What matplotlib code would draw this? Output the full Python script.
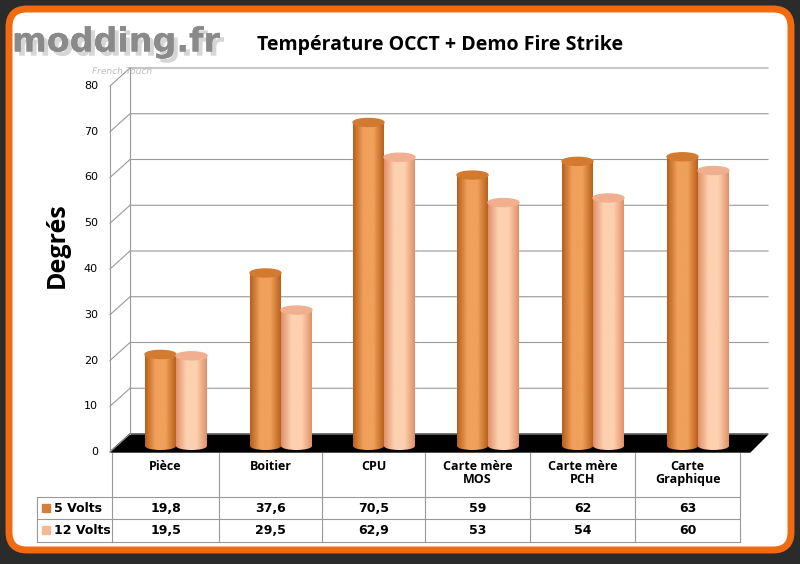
import numpy as np
import matplotlib
matplotlib.use("Agg")
import matplotlib.pyplot as plt
from matplotlib.patches import Rectangle, Ellipse, Polygon, FancyBboxPatch
from matplotlib.colors import LinearSegmentedColormap

categories = ["Pièce", "Boitier", "CPU", "Carte mère\nMOS", "Carte mère\nPCH", "Carte\nGraphique"]
volts5 = [19.8, 37.6, 70.5, 59, 62, 63]
volts12 = [19.5, 29.5, 62.9, 53, 54, 60]
labels5 = ["19,8", "37,6", "70,5", "59", "62", "63"]
labels12 = ["19,5", "29,5", "62,9", "53", "54", "60"]
yticks = [0, 10, 20, 30, 40, 50, 60, 70, 80]

fig = plt.figure(figsize=(8, 5.64), dpi=100)
ax = fig.add_axes([0, 0, 1, 1])
ax.set_xlim(0, 800)
ax.set_ylim(564, 0)
ax.axis("off")

# frame
ax.add_patch(Rectangle((0, 0), 800, 564, color="#2b2b2b"))
ax.add_patch(FancyBboxPatch((9, 9), 782, 541, boxstyle="round,pad=0,rounding_size=18",
                            fc="white", ec="#f06a10", lw=5))

# logo
import matplotlib.patheffects as pe
ax.text(12, 42, "modding.fr", fontsize=24, fontweight="bold", color="#8a8a8a",
        va="center", zorder=5,
        path_effects=[pe.withSimplePatchShadow(offset=(3, -3), shadow_rgbFace="#cccccc", alpha=0.8),
                      pe.Normal()])
ax.text(92, 74, "French Touch", fontsize=6.5, color="#bbbbbb", style="italic")

ax.text(440, 45, "Température OCCT + Demo Fire Strike", fontsize=14, fontweight="bold",
        ha="center", va="center", family="Open Sans")
ax.text(57, 245, "Degrés", fontsize=18, fontweight="bold", rotation=90,
        ha="center", va="center", family="Open Sans")

def ypix(v, base=452):
    return base - v * 366 / 80

# walls and gridlines
for t in yticks:
    y = ypix(t)
    ax.text(98, y, str(t), fontsize=8, ha="right", va="center")
    ax.plot([110, 130, 768], [y, y - 18, y - 18], color="#999999", lw=0.8)
ax.plot([110, 110], [ypix(0), ypix(80)], color="#999999", lw=0.8)
ax.plot([130, 130], [ypix(0) - 18, ypix(80) - 18], color="#999999", lw=0.8)
# floor
ax.add_patch(Polygon([[110, 452], [750, 452], [768, 434], [130, 434]], color="black"))

def cylinder(xc, v, c_edge, c_mid, c_top):
    w = 31
    top = 445 - v * 4.575
    bot = 446
    cmap = LinearSegmentedColormap.from_list("c", [c_edge, c_mid, c_mid, c_edge])
    grad = np.linspace(0, 1, 64).reshape(1, -1)
    im = ax.imshow(grad, cmap=cmap, extent=[xc - w / 2, xc + w / 2, bot + 4, top], aspect="auto", zorder=3)
    clip = Polygon([[xc - w / 2, top], [xc + w / 2, top], [xc + w / 2, bot], [xc - w / 2, bot]],
                   transform=ax.transData)
    im.set_clip_path(clip)
    im2 = ax.imshow(grad, cmap=cmap, extent=[xc - w / 2, xc + w / 2, bot + 4, bot - 4], aspect="auto", zorder=3)
    im2.set_clip_path(Ellipse((xc, bot), w, 8, transform=ax.transData))
    ax.add_patch(Ellipse((xc, top), w, 8, color=c_top, zorder=4))

col_edges = [112, 219, 322, 425, 530, 635, 740]
for i in range(6):
    cc = (col_edges[i] + col_edges[i + 1]) / 2 + 10
    cylinder(cc - 15, volts5[i], "#b8601c", "#f0a05a", "#d27a30")
    cylinder(cc + 16, volts12[i], "#e0906a", "#fdd0b0", "#f0b090")

# table
grid = "#999999"
top_t, r1, r2, r3 = 453, 497, 519, 542
for x in col_edges:
    ax.plot([x, x], [top_t, r3], color=grid, lw=0.8)
ax.plot([37, 37], [r1, r3], color=grid, lw=0.8)
for y in (r1, r2, r3):
    ax.plot([37, 740], [y, y], color=grid, lw=0.8)
for i in range(6):
    cx = (col_edges[i] + col_edges[i + 1]) / 2
    ax.text(cx, 460, categories[i], fontsize=9, fontweight="bold", ha="center", va="top",
            linespacing=1.0, family="Open Sans")
    ax.text(cx, (r1 + r2) / 2, labels5[i], fontsize=9, fontweight="bold", ha="center", va="center")
    ax.text(cx, (r2 + r3) / 2, labels12[i], fontsize=9, fontweight="bold", ha="center", va="center")
ax.add_patch(Rectangle((42, 504), 8, 8, color="#d2803c"))
ax.add_patch(Rectangle((42, 526), 8, 8, color="#f5b896"))
ax.text(54, (r1 + r2) / 2, "5 Volts", fontsize=9, fontweight="bold", va="center")
ax.text(54, (r2 + r3) / 2, "12 Volts", fontsize=9, fontweight="bold", va="center")

fig.savefig("out.png", dpi=100)
